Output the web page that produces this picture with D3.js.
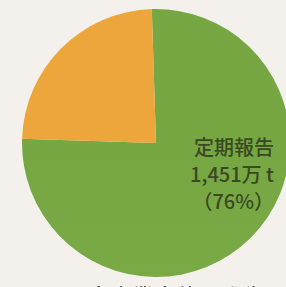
<!DOCTYPE html>
<html>
<head>
<meta charset="utf-8">
<script src="https://cdn.jsdelivr.net/npm/d3@7"></script>
<style>
  body { margin: 0; background: #f4f1ec; overflow: hidden; }
  svg { display: block; }
</style>
</head>
<body>
<div id="wrapper"></div>
<script>
// data
const categories = ["定期報告", "その他"];
const shares = [76, 24];
const labelLines = ["定期報告", "1,451万 t", "（76%）"];
const captionText = "における全産業全体の発生量";

function drawChart() {
  const width = 286;
  const height = 287;
  const cx = 156;
  const cy = 143;
  const radius = 134;

  const wrapper = d3.select("#wrapper")
    .append("svg")
    .attr("width", width)
    .attr("height", height);

  wrapper.append("rect")
    .attr("width", width)
    .attr("height", height)
    .attr("fill", "#f4f1ec");

  const defs = wrapper.append("defs");

  // orange slice fades to yellow near the left edge
  const orangeGrad = defs.append("radialGradient")
    .attr("id", "orange-grad")
    .attr("gradientUnits", "userSpaceOnUse")
    .attr("cx", cx - radius)
    .attr("cy", cy)
    .attr("r", 60);
  orangeGrad.append("stop").attr("offset", "0%").attr("stop-color", "#e2dc28");
  orangeGrad.append("stop").attr("offset", "35%").attr("stop-color", "#e8c22f");
  orangeGrad.append("stop").attr("offset", "100%").attr("stop-color", "#eca63c");

  const greenGrad = defs.append("linearGradient")
    .attr("id", "green-grad")
    .attr("gradientUnits", "userSpaceOnUse")
    .attr("x1", 0).attr("y1", cy - radius)
    .attr("x2", 0).attr("y2", cy + radius);
  greenGrad.append("stop").attr("offset", "0%").attr("stop-color", "#76a743");
  greenGrad.append("stop").attr("offset", "70%").attr("stop-color", "#7aab46");
  greenGrad.append("stop").attr("offset", "100%").attr("stop-color", "#8dbd57");

  const colorScale = d3.scaleOrdinal()
    .domain(categories)
    .range(["url(#green-grad)", "url(#orange-grad)"]);

  const offset = -1.8 * Math.PI / 180;
  const pie = d3.pie()
    .sort(null)
    .value((d) => d.value)
    .startAngle(offset)
    .endAngle(2 * Math.PI + offset);

  const arc = d3.arc().innerRadius(0).outerRadius(radius);

  const data = categories.map((c, i) => ({ name: c, value: shares[i] }));

  const pieGroup = wrapper.append("g")
    .attr("transform", `translate(${cx},${cy})`);

  pieGroup.selectAll("path")
    .data(pie(data))
    .join("path")
    .attr("d", arc)
    .attr("fill", (d) => colorScale(d.data.name));

  const label = wrapper.append("text")
    .attr("text-anchor", "end")
    .attr("font-family", "'Noto Sans CJK JP', sans-serif")
    .attr("font-size", 20)
    .attr("font-weight", 500)
    .attr("fill", "#3a4823");

  label.selectAll("tspan")
    .data(labelLines)
    .join("tspan")
    .attr("x", 274)
    .attr("y", (d, i) => 155 + i * 27)
    .text((d) => d);

  // caption below, cut by the bottom edge as in the scan
  wrapper.append("text")
    .attr("x", 0)
    .attr("y", 304)
    .attr("font-family", "'Noto Sans CJK JP', sans-serif")
    .attr("font-size", 21)
    .attr("font-weight", 500)
    .attr("fill", "#2a2a2a")
    .attr("textLength", 286)
    .text(captionText);
}

drawChart();
</script>
</body>
</html>
